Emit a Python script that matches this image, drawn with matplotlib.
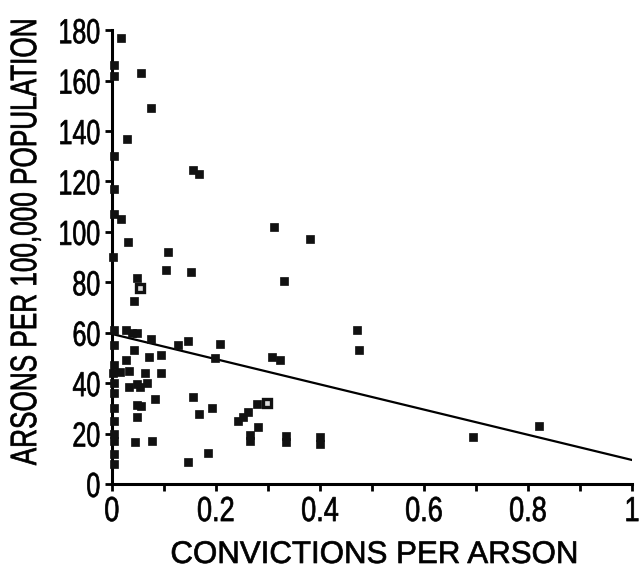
#!/usr/bin/env python3
"""
Arsons per 100,000 population against convictions per arson, with fitted line
"""
import numpy as np
from matplotlib import pyplot as plt
from matplotlib import patheffects
from matplotlib.transforms import Affine2D
from matplotlib.ticker import MultipleLocator, FixedLocator

plt.rcParams['font.family'] = ['Liberation Sans', 'DejaVu Sans']

# cities lying on (or right next to) the vertical axis
axis_x = [0.005, 0.005, 0.005, 0.005, 0.005, 0.003, 0.005, 0.005, 0.005,
          0.003, 0.005, 0.005, 0.005, 0.005, 0.005, 0.005, 0.005, 0.005]
axis_y = [166, 162, 130, 117, 107, 90, 61, 55, 47,
          44, 40, 36, 30, 25, 20, 17, 12, 8]

# remaining filled points
conv = [0.017, 0.056, 0.075, 0.029, 0.017, 0.031,
        0.156, 0.168,
        0.311, 0.381, 0.108, 0.105, 0.153, 0.331,
        0.049, 0.042,
        0.471, 0.475,
        0.028, 0.038, 0.048, 0.076, 0.127, 0.146, 0.208,
        0.198, 0.307, 0.323, 0.042, 0.028, 0.071, 0.094,
        0.015, 0.033, 0.063, 0.094,
        0.033, 0.048, 0.054, 0.067,
        0.083, 0.048, 0.057, 0.048,
        0.156, 0.168, 0.192, 0.279, 0.262, 0.243, 0.252, 0.281,
        0.265, 0.265, 0.335, 0.335, 0.400, 0.400,
        0.044, 0.078, 0.185, 0.146,
        0.695, 0.821]
arsons = [177, 163, 149, 137, 105, 96,
          124.5, 123,
          102, 97, 92, 85, 84, 80.5,
          81.5, 72.6,
          61, 53,
          61, 60, 60, 57.5, 55, 56.7, 55.5,
          50, 50.4, 49, 53, 49, 50.4, 51,
          44.5, 45, 44, 44,
          38.5, 39.5, 38.5, 40,
          33.5, 31.5, 30.8, 26.5,
          34.5, 27.8, 30, 31.7, 28.5, 25, 26.5, 22.6,
          17, 19.5, 16.5, 19, 16, 18.5,
          16.7, 17, 12.3, 8.7,
          18.6, 23]

# open (hollow) points
open_x = [0.055, 0.298]
open_y = [77.7, 32]

# fitted regression line
intercept, slope = 59.5, -50.0

xtick_pos = [0, 0.2, 0.4, 0.6, 0.8, 1.0]
xtick_lab = ['0', '0.2', '0.4', '0.6', '0.8', '1']


class Narrow(patheffects.AbstractPathEffect):
    """Squeeze (and slightly embolden) glyphs, mimicking a condensed face."""

    def __init__(self, sx, anchor='center', weight=0.5):
        super().__init__()
        self.sx = sx
        self.anchor = anchor
        self.weight = weight

    def draw_path(self, renderer, gc, tpath, affine, rgbFace=None):
        ext = tpath.get_extents()
        if self.anchor == 'right':
            c = ext.x1
        elif self.anchor == 'left':
            c = ext.x0
        else:
            c = 0.5 * (ext.x0 + ext.x1)
        squeeze = Affine2D().translate(-c, 0).scale(self.sx, 1).translate(c, 0)
        gc0 = renderer.new_gc()
        gc0.copy_properties(gc)
        gc0.set_linewidth(self.weight)
        gc0.set_foreground(rgbFace if rgbFace is not None else 'black')
        renderer.draw_path(gc0, tpath, squeeze + affine, rgbFace)
        gc0.restore()


fig = plt.figure(figsize=(6.39, 5.70), dpi=100)
ax = fig.add_axes([0.175, 0.151, 0.814, 0.796])

ax.plot(axis_x + conv, axis_y + arsons, 's', color='#111111',
        markersize=5.6, markeredgewidth=0.5, clip_on=False, zorder=3)
ax.plot(open_x, open_y, 's', color='#111111', markerfacecolor='#dddddd',
        markersize=5.6, markeredgewidth=2.4, clip_on=False, zorder=3)

xs = np.array([0.0, 1.0])
ax.plot(xs, intercept + slope * xs, color='black', lw=1.6, zorder=2)

ax.set_xlim(0, 1)
ax.set_ylim(0, 180)
for side in ('top', 'right'):
    ax.spines[side].set_visible(False)
for side in ('left', 'bottom'):
    ax.spines[side].set_linewidth(2.2)

ax.xaxis.set_major_locator(FixedLocator(xtick_pos))
ax.xaxis.set_minor_locator(MultipleLocator(0.1))
ax.set_xticklabels(xtick_lab)
ax.yaxis.set_major_locator(MultipleLocator(20))

ax.tick_params(axis='x', which='both', direction='out', length=5,
               width=2, labelsize=25, pad=3)
ax.tick_params(axis='y', which='major', direction='out', length=5,
               width=2, labelsize=25, pad=3)

for lab in ax.get_xticklabels():
    lab.set_path_effects([Narrow(0.78, 'center')])
for lab in ax.get_yticklabels():
    lab.set_path_effects([Narrow(0.72, 'right')])

fig.text(0.586, 0.0123, 'CONVICTIONS PER ARSON', fontsize=22.5,
         ha='center', va='baseline', path_effects=[Narrow(1.0)])
fig.text(0.0565, 0.5746, 'ARSONS PER 100,000 POPULATION', fontsize=26.5,
         ha='center', va='baseline', rotation=90, rotation_mode='anchor',
         path_effects=[Narrow(0.71)])

fig.savefig('out.png', dpi=100)
